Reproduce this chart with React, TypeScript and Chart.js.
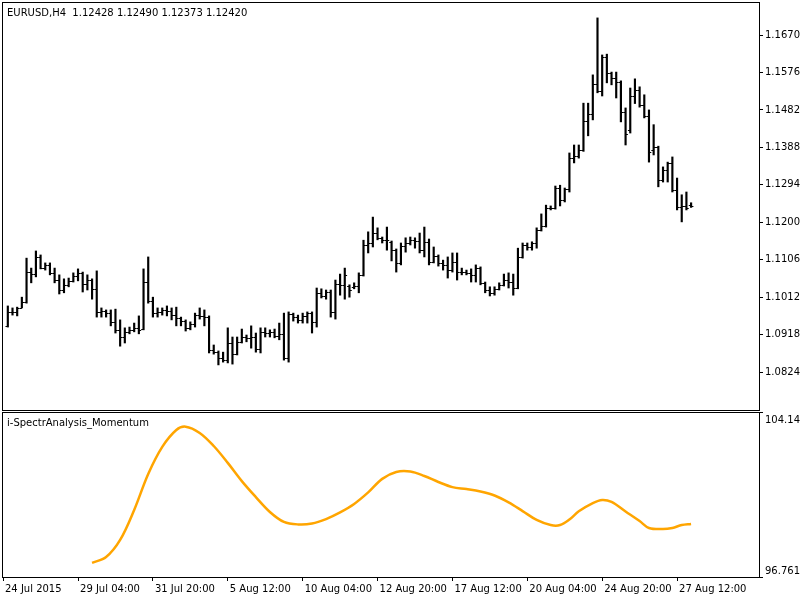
import React, { useEffect, useRef } from "react";
import { Chart, registerables } from "chart.js";

Chart.register(...registerables);

// ---- Data (EURUSD H4, bar 0 = 24 Jul 2015 16:00) ----
const openP = [
  1.0940, 1.0975, 1.0975, 1.0985, 1.1000, 1.1075, 1.1070, 1.1113, 1.1085, 1.1093,
  1.1073, 1.1055, 1.1030, 1.1043, 1.1053, 1.1065, 1.1073, 1.1045, 1.1055, 1.1033,
  1.0975, 1.0977, 1.0972, 1.0950, 1.0930, 1.0912, 1.0925, 1.0930, 1.0935, 1.0932,
  1.1050, 1.1002, 1.0972, 1.0975, 1.0980, 1.0977, 1.0967, 1.0960, 1.0952, 1.0935,
  1.0945, 1.0967, 1.0965, 1.0962, 1.0879, 1.0874, 1.0859, 1.0854, 1.0897, 1.0869,
  1.0900, 1.0912, 1.0910, 1.0912, 1.0882, 1.0925, 1.0922, 1.0925, 1.0915, 1.0920,
  1.0859, 1.0970, 1.0962, 1.0955, 1.0965, 1.0972, 1.0950, 1.1023, 1.1015, 1.1025,
  1.0975, 1.1045, 1.1043, 1.1040, 1.1037, 1.1040, 1.1068, 1.1143, 1.1148, 1.1173,
  1.1161, 1.1156, 1.1151, 1.1130, 1.1098, 1.1140, 1.1148, 1.1156, 1.1153, 1.1130,
  1.1151, 1.1100, 1.1115, 1.1098, 1.1093, 1.1080, 1.1100, 1.1075, 1.1075, 1.1073,
  1.1068, 1.1085, 1.1048, 1.1030, 1.1023, 1.1033, 1.1043, 1.1055, 1.1050, 1.1035,
  1.1113, 1.1143, 1.1138, 1.1148, 1.1181, 1.1191, 1.1236, 1.1236, 1.1286, 1.1256,
  1.1284, 1.1361, 1.1366, 1.1381, 1.1454, 1.1472, 1.1547, 1.1530, 1.1615, 1.1575,
  1.1562, 1.1552, 1.1477, 1.1432, 1.1517, 1.1532, 1.1494, 1.1467, 1.1381, 1.1389,
  1.1306, 1.1331, 1.1349, 1.1281, 1.1238, 1.1241, 1.12428,
];
const highP = [
  1.0990, 1.0985, 1.0987, 1.1012, 1.1110, 1.1085, 1.1128, 1.1118, 1.1098, 1.1098,
  1.1085, 1.1068, 1.1058, 1.1060, 1.1073, 1.1083, 1.1075, 1.1068, 1.1058, 1.1078,
  1.0985, 1.0980, 1.0980, 1.0982, 1.0955, 1.0935, 1.0937, 1.0947, 1.0965, 1.1083,
  1.1113, 1.1012, 1.0985, 1.0985, 1.0990, 1.0985, 1.0987, 1.0962, 1.0955, 1.0950,
  1.0972, 1.0985, 1.0980, 1.0965, 1.0892, 1.0877, 1.0874, 1.0935, 1.0912, 1.0912,
  1.0932, 1.0917, 1.0940, 1.0922, 1.0935, 1.0935, 1.0930, 1.0932, 1.0947, 1.0972,
  1.0975, 1.0972, 1.0967, 1.0972, 1.0975, 1.0975, 1.1035, 1.1033, 1.1030, 1.1030,
  1.1055, 1.1070, 1.1085, 1.1043, 1.1048, 1.1073, 1.1155, 1.1176, 1.1213, 1.1186,
  1.1163, 1.1188, 1.1153, 1.1133, 1.1148, 1.1161, 1.1163, 1.1161, 1.1173, 1.1188,
  1.1158, 1.1138, 1.1118, 1.1105, 1.1113, 1.1123, 1.1123, 1.1085, 1.1080, 1.1083,
  1.1093, 1.1088, 1.1050, 1.1038, 1.1038, 1.1048, 1.1070, 1.1073, 1.1070, 1.1135,
  1.1148, 1.1148, 1.1151, 1.1186, 1.1221, 1.1243, 1.1241, 1.1291, 1.1293, 1.1286,
  1.1374, 1.1394, 1.1394, 1.1499, 1.1499, 1.1570, 1.1713, 1.1620, 1.1622, 1.1577,
  1.1577, 1.1555, 1.1487, 1.1537, 1.1560, 1.1540, 1.1520, 1.1482, 1.1445, 1.1391,
  1.1339, 1.1351, 1.1364, 1.1311, 1.1269, 1.1276, 1.12490,
];
const lowP = [
  1.0937, 1.0967, 1.0965, 1.0985, 1.0997, 1.1048, 1.1063, 1.1083, 1.1080, 1.1068,
  1.1048, 1.1020, 1.1023, 1.1038, 1.1050, 1.1053, 1.1025, 1.1030, 1.1007, 1.0962,
  1.0962, 1.0962, 1.0940, 1.0922, 1.0889, 1.0897, 1.0920, 1.0925, 1.0920, 1.0930,
  1.0997, 1.0962, 1.0962, 1.0967, 1.0965, 1.0955, 1.0940, 1.0940, 1.0927, 1.0930,
  1.0937, 1.0957, 1.0940, 1.0872, 1.0869, 1.0842, 1.0849, 1.0847, 1.0844, 1.0867,
  1.0897, 1.0900, 1.0884, 1.0874, 1.0872, 1.0912, 1.0912, 1.0910, 1.0905, 1.0854,
  1.0849, 1.0952, 1.0947, 1.0947, 1.0947, 1.0922, 1.0937, 1.1010, 1.1007, 1.0962,
  1.0957, 1.1017, 1.1007, 1.1012, 1.1033, 1.1023, 1.1065, 1.1123, 1.1138, 1.1156,
  1.1148, 1.1130, 1.1103, 1.1075, 1.1093, 1.1125, 1.1143, 1.1135, 1.1123, 1.1113,
  1.1093, 1.1098, 1.1090, 1.1080, 1.1060, 1.1075, 1.1055, 1.1068, 1.1068, 1.1050,
  1.1050, 1.1043, 1.1023, 1.1015, 1.1017, 1.1030, 1.1040, 1.1035, 1.1017, 1.1033,
  1.1110, 1.1130, 1.1130, 1.1135, 1.1178, 1.1188, 1.1231, 1.1233, 1.1241, 1.1251,
  1.1276, 1.1349, 1.1361, 1.1378, 1.1417, 1.1457, 1.1525, 1.1517, 1.1550, 1.1545,
  1.1512, 1.1452, 1.1394, 1.1424, 1.1498, 1.1489, 1.1462, 1.1351, 1.1369, 1.1289,
  1.1301, 1.1301, 1.1276, 1.1231, 1.1201, 1.1231, 1.12373,
];
const closeP = [
  1.0975, 1.0975, 1.0985, 1.1000, 1.1075, 1.1070, 1.1113, 1.1085, 1.1093, 1.1073,
  1.1055, 1.1030, 1.1043, 1.1053, 1.1065, 1.1073, 1.1045, 1.1055, 1.1033, 1.0975,
  1.0977, 1.0972, 1.0950, 1.0930, 1.0912, 1.0925, 1.0930, 1.0935, 1.0930, 1.1050,
  1.1002, 1.0972, 1.0975, 1.0980, 1.0977, 1.0967, 1.0960, 1.0952, 1.0935, 1.0945,
  1.0967, 1.0965, 1.0962, 1.0879, 1.0874, 1.0859, 1.0854, 1.0897, 1.0869, 1.0900,
  1.0912, 1.0910, 1.0912, 1.0882, 1.0925, 1.0922, 1.0925, 1.0915, 1.0920, 1.0859,
  1.0970, 1.0962, 1.0955, 1.0965, 1.0972, 1.0950, 1.1023, 1.1015, 1.1025, 1.0975,
  1.1045, 1.1043, 1.1068, 1.1030, 1.1040, 1.1068, 1.1143, 1.1148, 1.1173, 1.1161,
  1.1156, 1.1156, 1.1130, 1.1098, 1.1140, 1.1148, 1.1156, 1.1153, 1.1130, 1.1151,
  1.1100, 1.1115, 1.1098, 1.1093, 1.1080, 1.1100, 1.1075, 1.1075, 1.1073, 1.1068,
  1.1085, 1.1048, 1.1030, 1.1023, 1.1033, 1.1043, 1.1055, 1.1050, 1.1035, 1.1113,
  1.1143, 1.1138, 1.1148, 1.1181, 1.1191, 1.1236, 1.1236, 1.1286, 1.1256, 1.1284,
  1.1361, 1.1366, 1.1381, 1.1454, 1.1472, 1.1547, 1.1530, 1.1615, 1.1575, 1.1562,
  1.1552, 1.1477, 1.1422, 1.1517, 1.1532, 1.1494, 1.1467, 1.1376, 1.1389, 1.1306,
  1.1331, 1.1349, 1.1281, 1.1238, 1.1241, 1.1236, 1.12420,
];

// i-SpectrAnalysis_Momentum (bar index, value)
const momentumBar = [18, 21, 24, 27, 30, 33, 36, 38, 41, 44, 47, 50, 53, 56, 59, 62, 65, 68, 71, 74, 77, 80, 83, 86, 89, 92, 95, 98, 101, 104, 107, 110, 113, 116, 118, 120, 122, 125, 127, 129, 132, 135, 137, 140, 142, 144, 146];
const momentumVal = [97.40, 97.66, 98.43, 99.78, 101.40, 102.62, 103.38, 103.53, 103.25, 102.66, 101.90, 101.08, 100.36, 99.69, 99.24, 99.13, 99.17, 99.37, 99.67, 100.05, 100.57, 101.18, 101.49, 101.51, 101.31, 101.04, 100.81, 100.72, 100.61, 100.43, 100.12, 99.73, 99.33, 99.10, 99.10, 99.35, 99.72, 100.09, 100.23, 100.14, 99.71, 99.28, 98.97, 98.92, 98.97, 99.10, 99.15];

const priceTicks = [1.0824, 1.0918, 1.1012, 1.1106, 1.12, 1.1294, 1.1388, 1.1482, 1.1576, 1.167];
const firstDateLabel = "24 Jul 2015";
const timeTickBars = [15, 31, 47, 63, 79, 95, 111, 127, 143];
const timeTickLabels = ["29 Jul 04:00", "31 Jul 20:00", "5 Aug 12:00", "10 Aug 04:00", "12 Aug 20:00", "17 Aug 12:00", "20 Aug 04:00", "24 Aug 20:00", "27 Aug 12:00"];

const headerText = "EURUSD,H4  1.12428 1.12490 1.12373 1.12420";
const indicatorName = "i-SpectrAnalysis_Momentum";
const indMin = 96.7611;
const indMax = 104.147;
const priceMin = 1.07288;
const priceMax = 1.17504;

const X_MIN = -1.03;
const X_MAX = 160.51;
const FONT = "'DejaVu Sans', sans-serif";
const AXIS_W = 41;

const framePlugin = (label: string) => ({
  id: "frame",
  beforeDraw(chart: any) {
    const ctx = chart.ctx;
    ctx.save();
    ctx.fillStyle = "#ffffff";
    ctx.fillRect(0, 0, chart.width, chart.height);
    ctx.restore();
  },
  afterDraw(chart: any) {
    const { ctx, chartArea: a } = chart;
    ctx.save();
    ctx.strokeStyle = "#000";
    ctx.lineWidth = 1;
    ctx.strokeRect(a.left - 0.5, a.top - 0.5, a.right - a.left + 1, a.bottom - a.top + 1);
    ctx.fillStyle = "#000";
    ctx.font = "10px " + FONT;
    ctx.textAlign = "left";
    ctx.textBaseline = "middle";
    ctx.fillText(label, a.left + 4, a.top + 10);
    ctx.restore();
  },
});

const ohlcTicksPlugin = {
  id: "ohlcTicks",
  afterDatasetsDraw(chart: any) {
    const { ctx } = chart;
    const xs = chart.scales.x;
    const ys = chart.scales.y;
    const half = xs.getPixelForValue(0.5) - xs.getPixelForValue(0);
    ctx.save();
    ctx.strokeStyle = "#000";
    ctx.lineWidth = 1;
    ctx.beginPath();
    for (let i = 0; i < openP.length; i++) {
      const x = xs.getPixelForValue(i);
      const yo = Math.round(ys.getPixelForValue(openP[i])) + 0.5;
      const yc = Math.round(ys.getPixelForValue(closeP[i])) + 0.5;
      ctx.moveTo(x - half, yo);
      ctx.lineTo(x, yo);
      ctx.moveTo(x, yc);
      ctx.lineTo(x + half, yc);
    }
    ctx.stroke();
    ctx.restore();
  },
};

const indAxisPlugin = {
  id: "indAxis",
  afterDraw(chart: any) {
    const { ctx, chartArea: a } = chart;
    const ys = chart.scales.y;
    const yTop = Math.round(ys.getPixelForValue(indMax)) - 0.5;
    const yBot = Math.round(ys.getPixelForValue(indMin)) + 0.5;
    ctx.save();
    ctx.strokeStyle = "#000";
    ctx.lineWidth = 1;
    ctx.beginPath();
    ctx.moveTo(a.right, yTop);
    ctx.lineTo(a.right + 4, yTop);
    ctx.moveTo(a.right, yBot);
    ctx.lineTo(a.right + 4, yBot);
    ctx.stroke();
    ctx.fillStyle = "#000";
    ctx.font = "10px " + FONT;
    ctx.textAlign = "left";
    ctx.textBaseline = "middle";
    ctx.fillText(String(indMax), a.right + 6, yTop + 8);
    ctx.fillText(String(indMin), a.right + 6, yBot - 6);
    ctx.restore();
  },
};

export default function App() {
  const topRef = useRef<HTMLCanvasElement>(null);
  const botRef = useRef<HTMLCanvasElement>(null);

  useEffect(() => {
    const barIdx = openP.map((_, i) => i);
    const top = new Chart(topRef.current as HTMLCanvasElement, {
      type: "bar",
      data: {
        datasets: [
          {
            data: barIdx.map((i) => ({ x: i, y: [lowP[i], highP[i]] })) as any,
            backgroundColor: "#000",
            borderWidth: 0,
            barThickness: 1.5,
          } as any,
        ],
      },
      options: {
        responsive: false,
        animation: false,
        devicePixelRatio: 1,
        layout: { padding: { left: 3, top: 3, right: 0, bottom: 2 } },
        plugins: { legend: { display: false }, tooltip: { enabled: false } },
        scales: {
          x: { type: "linear", min: X_MIN, max: X_MAX, offset: false, display: false },
          y: {
            type: "linear",
            position: "right",
            min: priceMin,
            max: priceMax,
            afterBuildTicks: (s: any) => {
              s.ticks = priceTicks.map((v) => ({ value: v }));
            },
            afterFit: (s: any) => {
              s.width = AXIS_W;
              s.paddingTop = 0;
              s.paddingBottom = 0;
            },
            ticks: {
              callback: (v: any) => Number(v).toFixed(5),
              color: "#000",
              font: { family: FONT, size: 10 },
              padding: 2,
            },
            grid: { drawOnChartArea: false, drawTicks: true, tickLength: 4, color: "#000" },
            border: { display: false },
          },
        },
      } as any,
      plugins: [framePlugin(headerText), ohlcTicksPlugin],
    });

    const bot = new Chart(botRef.current as HTMLCanvasElement, {
      type: "line",
      data: {
        datasets: [
          {
            data: momentumBar.map((b, k) => ({ x: b, y: momentumVal[k] })),
            borderColor: "#FFA500",
            borderWidth: 2.5,
            pointRadius: 0,
            fill: false,
            tension: 0.35,
          } as any,
        ],
      },
      options: {
        responsive: false,
        animation: false,
        devicePixelRatio: 1,
        layout: { padding: { left: 3, top: 1, right: 0, bottom: 0 } },
        plugins: { legend: { display: false }, tooltip: { enabled: false } },
        scales: {
          x: {
            type: "linear",
            position: "bottom",
            min: X_MIN,
            max: X_MAX,
            offset: false,
            afterBuildTicks: (s: any) => {
              s.ticks = [{ value: X_MIN }, ...timeTickBars.map((v) => ({ value: v }))];
            },
            afterFit: (s: any) => {
              s.height = 23;
              s.paddingLeft = 0;
              s.paddingRight = 0;
            },
            ticks: {
              autoSkip: false,
              maxRotation: 0,
              minRotation: 0,
              align: "start",
              labelOffset: 2,
              padding: 2,
              color: "#000",
              font: { family: FONT, size: 10 },
              callback: (_v: any, idx: number) => (idx === 0 ? firstDateLabel : timeTickLabels[idx - 1]),
            },
            grid: { drawOnChartArea: false, drawTicks: true, tickLength: 4, color: "#000" },
            border: { display: false },
          },
          y: {
            type: "linear",
            position: "right",
            min: indMin,
            max: indMax,
            afterFit: (s: any) => {
              s.width = AXIS_W;
              s.paddingTop = 0;
              s.paddingBottom = 0;
            },
            ticks: { display: false },
            grid: { display: false },
            border: { display: false },
          },
        },
      } as any,
      plugins: [framePlugin(indicatorName), indAxisPlugin],
    });

    return () => {
      top.destroy();
      bot.destroy();
    };
  }, []);

  return (
    <div style={{ position: "fixed", left: 0, top: 0, width: 800, height: 600, background: "#fff", overflow: "hidden" }}>
      <canvas ref={topRef} width={800} height={412} style={{ position: "absolute", left: 0, top: 0, display: "block" }} />
      <canvas ref={botRef} width={800} height={188} style={{ position: "absolute", left: 0, top: 412, display: "block" }} />
    </div>
  );
}
